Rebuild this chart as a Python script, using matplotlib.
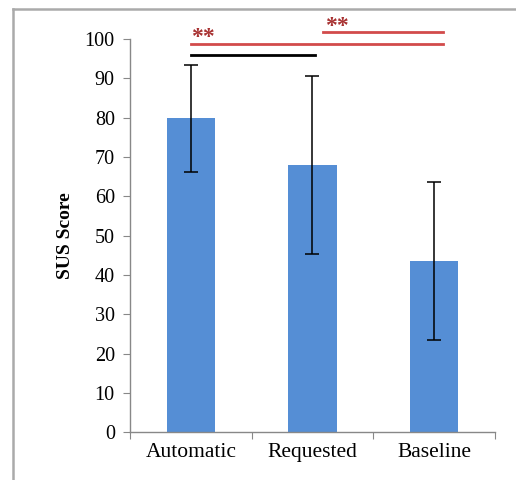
import matplotlib.pyplot as plt
from matplotlib.lines import Line2D

conditions = ["Automatic", "Requested", "Baseline"]
sus_mean = [79.8, 68.0, 43.6]
sus_err = [13.5, 22.7, 20.1]
yticks = [0, 10, 20, 30, 40, 50, 60, 70, 80, 90, 100]

plt.rcParams['font.family'] = ['Liberation Serif', 'DejaVu Serif']

fig = plt.figure(figsize=(5.16, 4.8), dpi=100)
ax = fig.add_axes([0.252, 0.0994, 0.707, 0.8194])

x = range(len(conditions))
ax.bar(x, sus_mean, width=0.4, color='#558ed5', zorder=2)
ax.errorbar(x, sus_mean, yerr=sus_err, fmt='none', ecolor='black',
            elinewidth=1.1, capsize=4.8, capthick=1.1, zorder=3)

ax.set_xlim(-0.5, 2.5)
ax.set_ylim(0, 100)
ax.set_yticks(yticks)
ax.set_yticklabels([str(t) for t in yticks], fontsize=14.5)
# x ticks sit between the categories, labels in the middle
ax.set_xticks([-0.5, 0.5, 1.5, 2.5])
ax.set_xticklabels([])
ax.set_xticks(list(x), minor=True)
ax.set_xticklabels(conditions, minor=True, fontsize=15.5)
ax.tick_params(axis='x', which='minor', length=0, pad=8)
ax.tick_params(axis='x', which='major', direction='out', length=5, color='#888888')
ax.tick_params(axis='y', direction='out', length=5, color='#888888', pad=6)

for s in ['top', 'right']:
    ax.spines[s].set_visible(False)
for s in ['left', 'bottom']:
    ax.spines[s].set_color('#888888')
    ax.spines[s].set_linewidth(1.0)

ax.set_ylabel("SUS Score", fontsize=14, fontweight='bold', labelpad=8)

# significance lines
ax.plot([0, 1.02], [95.9, 95.9], color='black', lw=2, clip_on=False, zorder=4)
ax.plot([0, 2.07], [98.8, 98.8], color='#d24b4b', lw=2, clip_on=False, zorder=4)
ax.plot([1.09, 2.07], [101.7, 101.7], color='#d24b4b', lw=2, clip_on=False, zorder=4)
ax.text(0.1, 97.6, "**", color='#a83232', fontsize=17, fontweight='bold',
        ha='center', va='bottom', clip_on=False)
ax.text(1.2, 100.5, "**", color='#a83232', fontsize=17, fontweight='bold',
        ha='center', va='bottom', clip_on=False)

# frame around the figure (cropped screenshot look)
fig.add_artist(Line2D([13 / 516, 1], [1 - 9 / 480, 1 - 9 / 480], color='#aaaaaa', lw=1.8))
fig.add_artist(Line2D([13 / 516, 13 / 516], [0, 1 - 9 / 480], color='#aaaaaa', lw=1.8))

fig.savefig("out.png", dpi=100)
